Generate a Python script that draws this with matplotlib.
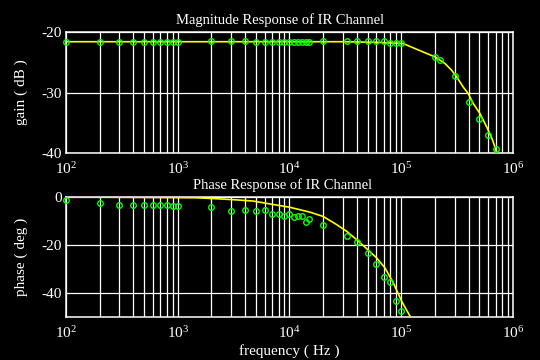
import matplotlib
matplotlib.use('Agg')
from matplotlib import pyplot as plt
from matplotlib.ticker import FixedLocator, FixedFormatter, LogLocator

# measured points (frequency in Hz)
gain_freq = [100, 200, 300, 400, 500, 600, 700, 800, 900, 1000,
             2000, 3000, 4000, 5000, 6000, 7000, 8000, 9000, 10000,
             11000, 12000, 13000, 14000, 15000, 20000, 33000, 40000,
             50000, 60000, 70000, 80000, 90000, 100000,
             200000, 220000, 300000, 400000, 500000, 600000, 700000]
gain_meas = [-21.6, -21.6, -21.6, -21.6, -21.6, -21.6, -21.6, -21.6, -21.6, -21.6,
             -21.5, -21.5, -21.5, -21.6, -21.6, -21.6, -21.6, -21.6, -21.6,
             -21.6, -21.6, -21.6, -21.6, -21.6, -21.5, -21.5, -21.5,
             -21.5, -21.4, -21.5, -21.8, -21.8, -21.8,
             -24.2, -24.6, -27.2, -31.5, -34.3, -37.0, -39.4]

phase_freq = [100, 200, 300, 400, 500, 600, 700, 800, 900, 1000,
              2000, 3000, 4000, 5000, 6000, 7000, 8000, 9000, 10000,
              11000, 12000, 13000, 14000, 15000, 20000, 33000, 40000,
              50000, 60000, 70000, 80000, 90000, 100000]
phase_meas = [-1.4, -2.6, -3.5, -3.5, -3.5, -3.5, -3.5, -3.5, -3.9, -3.9,
              -4.3, -5.7, -5.3, -5.7, -5.6, -7.0, -7.1, -7.8, -7.1,
              -8.3, -7.8, -8.1, -10.6, -9.0, -11.5, -16.4, -18.9,
              -23.5, -28.1, -33.2, -35.6, -43.2, -47.3]

# model curves
gain_model_freq = [100, 6700, 30000, 60000, 104000, 157000, 200000, 246000, 282000,
                   313000, 359000, 398000, 441000, 507000, 582000, 658000, 714000]
gain_model = [-21.6, -21.6, -21.6, -21.7, -21.9, -23.3, -24.1, -25.2, -26.3,
              -27.4, -29.1, -30.2, -31.8, -33.5, -35.7, -37.9, -39.9]

phase_model_freq = [100, 300, 1430, 2390, 3480, 4740, 6700, 10100, 15200, 20000,
                    26400, 32500, 39900, 49000, 60300, 71600, 85000, 101000, 120000]
phase_model = [0.0, -0.1, -0.3, -0.8, -1.25, -1.7, -2.9, -4.3, -6.3, -8.1,
               -11.5, -14.3, -17.8, -21.5, -25.4, -29.6, -35.8, -43.5, -49.7]

x_ticks = [1e2, 1e3, 1e4, 1e5, 1e6]
x_ticklabels = ['$10^{2}$', '$10^{3}$', '$10^{4}$', '$10^{5}$', '$10^{6}$']

plt.rcParams['font.family'] = ['Liberation Serif', 'DejaVu Serif']
plt.rcParams['mathtext.fontset'] = 'custom'
plt.rcParams['mathtext.rm'] = 'Liberation Serif'
plt.rcParams['mathtext.it'] = 'Liberation Serif'
plt.rcParams['font.size'] = 10.5


def style_axes(ax: plt.Axes, ylim, yticks):
    ax.set_facecolor('black')
    ax.set_xscale('log')
    ax.set_xlim(1e2, 1e6)
    ax.set_ylim(*ylim)
    ax.xaxis.set_major_locator(FixedLocator(x_ticks))
    ax.xaxis.set_major_formatter(FixedFormatter(x_ticklabels))
    ax.xaxis.set_minor_locator(LogLocator(base=10, subs=range(2, 10), numticks=20))
    ax.set_yticks(yticks)
    ax.set_yticklabels([f'{t:d}' for t in yticks])
    ax.tick_params(which='both', length=0, colors='white', labelsize=11)
    ax.tick_params(axis='x', pad=6)
    ax.tick_params(axis='y', pad=3)
    ax.grid(which='both', axis='x', color='white', linewidth=0.9)
    ax.grid(which='major', axis='y', color='white', linewidth=0.9)
    ax.set_axisbelow(True)
    for sp in ax.spines.values():
        sp.set_color('white')
        sp.set_linewidth(1.1)


fig = plt.figure(figsize=(5.4, 3.6), dpi=100, facecolor='black')
ax1 = fig.add_axes([0.1222, 0.575, 0.8278, 0.336])
ax2 = fig.add_axes([0.1222, 0.1194, 0.8278, 0.3334])

style_axes(ax1, (-40, -20), [-20, -30, -40])
ax1.plot(gain_model_freq, gain_model, color='#ffff00', linewidth=1.2, zorder=3)
ax1.plot(gain_freq, gain_meas, linestyle='none', marker='o', markersize=4,
         markerfacecolor='none', markeredgecolor='#00ff00', markeredgewidth=1.0,
         zorder=4, clip_on=False)
ax1.set_title('Magnitude Response of IR Channel', color='white', fontsize=10.5,
              pad=6, x=0.48)
ax1.set_ylabel('gain ( dB )', color='white', fontsize=11, labelpad=10)

style_axes(ax2, (-50, 0), [0, -20, -40])
ax2.plot(phase_model_freq, phase_model, color='#ffff00', linewidth=1.2, zorder=3)
ax2.plot(phase_freq, phase_meas, linestyle='none', marker='o', markersize=4,
         markerfacecolor='none', markeredgecolor='#00ff00', markeredgewidth=1.0,
         zorder=4, clip_on=False)
ax2.set_title('Phase Response of IR Channel', color='white', fontsize=10.5,
              pad=6, x=0.484)
ax2.set_ylabel('phase ( deg )', color='white', fontsize=11, labelpad=10)
ax2.set_xlabel('frequency ( Hz )', color='white', fontsize=11, labelpad=2)

fig.savefig('out.png', dpi=100, facecolor='black')
